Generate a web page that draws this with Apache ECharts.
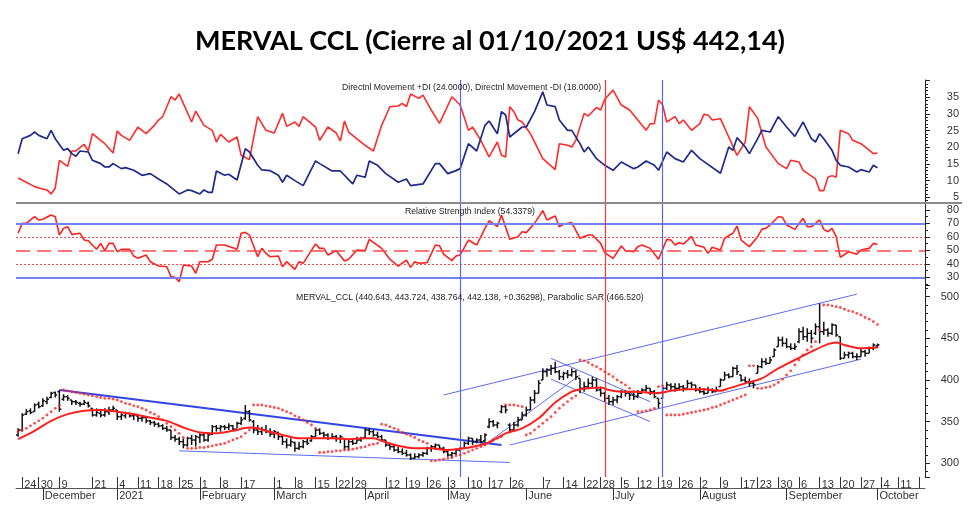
<!DOCTYPE html>
<html>
<head>
<meta charset="utf-8">
<script src="https://cdn.jsdelivr.net/npm/echarts@6/dist/echarts.min.js"></script>
<style>html,body{margin:0;padding:0;background:#fff}#c{width:980px;height:526px}</style>
</head>
<body>
<div id="c"></div>
<script>
// ---------- categories (trading days) ----------
const holidays = ['2020-11-23','2020-12-07','2020-12-08','2020-12-24','2020-12-25','2020-12-31','2021-01-01',
  '2021-02-15','2021-02-16','2021-03-24','2021-04-01','2021-04-02','2021-05-24','2021-05-25','2021-06-21',
  '2021-07-09','2021-08-16','2021-10-08'];
function tradingDays(start, count) {
  const out = []; const d = new Date(start + 'T00:00:00Z');
  while (out.length < count) {
    const wd = d.getUTCDay(); const s = d.toISOString().slice(0, 10);
    if (wd !== 0 && wd !== 6 && holidays.indexOf(s) < 0) out.push(s);
    d.setUTCDate(d.getUTCDate() + 1);
  }
  return out;
}
const dates = tradingDays('2020-11-20', 220);
const hiddenDayLabels = ['2020-12-14','2020-12-28','2021-02-22','2021-04-05','2021-05-31'];
const monthNames = ['2021','February','March','April','May','June','July','August','September','October','November','December'];

// ---------- price bars (OHLC) ----------
const opens = [
334,340,359,363,362,371,369,374,379,385, 386,377,380,376,374,372,371,372,366,358,
360,358,362,364,364,356,357,360,357,357, 354,355,351,349,347,345,342,340,331,329,
326,322,330,328,331,334,328,335,344,342, 344,343,345,341,348,354,362,350,340,338,
340,338,335,337,332,326,322,325,318,320, 326,327,332,340,336,334,330,332,330,330,
320,326,324,328,331,340,338,334,332,328, 322,320,316,314,312,310,306,308,310,312,
318,320,322,318,314,310,312,316,318,324, 330,326,328,327,344,350,346,362,368,346,
340,346,352,358,364,376,384,400,410,412, 414,410,404,408,406,410,402,390,392,396,
400,388,384,378,374,376,380,386,384,382, 380,384,388,390,386,378,378,390,394,392,
390,392,390,396,394,388,386,384,388,386, 392,400,406,404,414,406,400,398,396,408,
416,422,420,428,440,448,444,440,438,446, 458,452,456,456,464,458,460,456,466,452,
426,430,432,428,428,434,432,438,440.643];
const highs = [
342,360,365,366,372,374,378,380,386,386, 388,383,382,376,376,374,376,374,366,366,
364,366,368,369,364,360,362,361,360,358, 358,356,352,351,349,347,345,340,334,332,
330,332,334,334,336,336,336,346,346,346, 346,348,346,350,356,370,364,352,346,344,
346,342,340,338,334,330,330,326,326,328, 330,334,342,342,338,336,336,334,334,330,
328,330,332,332,342,342,340,338,334,328, 324,322,320,318,316,312,312,312,314,320,
322,324,322,320,316,314,318,320,326,332, 330,330,334,336,354,352,350,370,370,348,
350,356,362,368,380,388,400,414,414,418, 422,412,410,412,414,412,402,398,402,404,
402,392,386,382,380,382,388,388,386,386, 388,390,394,390,388,378,392,398,396,396,
396,394,400,398,394,392,390,392,390,392, 402,410,408,416,418,406,404,402,400,418,
426,426,428,438,452,452,450,444,444,462, 464,462,460,468,492,470,462,468,466,452,
434,434,434,432,438,436,440,444,443.724];
const lows = [
332,338,358,359,362,366,368,371,378,379, 362,375,375,370,370,368,370,367,356,356,
355,356,358,362,352,352,354,355,352,350, 350,348,346,344,343,340,338,328,326,322,
318,320,322,320,324,326,326,334,338,338, 340,340,339,342,346,352,350,336,334,334,
336,332,330,328,322,318,320,314,316,318, 322,326,332,334,330,328,330,326,324,316,
316,322,324,326,330,334,332,330,326,320, 316,314,312,310,308,304,305,306,308,310,
314,316,316,312,308,306,310,314,318,322, 322,324,324,326,342,344,342,360,360,336,
338,344,352,356,364,372,384,400,404,406, 408,400,400,402,404,400,384,386,390,390,
386,380,374,370,370,372,378,380,376,376, 378,384,386,382,378,366,378,388,388,386,
388,386,390,390,386,384,382,384,384,386, 392,400,402,404,406,398,396,392,390,408,
414,418,420,428,440,440,438,436,436,444, 448,446,444,454,444,454,452,454,452,424,
426,426,426,424,428,428,432,436,438.764];
const closes = [
340,358,362,361,370,368,375,377,384,382, 365,380,378,374,373,371,373,369,358,361,
358,362,364,366,356,358,360,357,358,354, 355,351,349,347,345,342,340,331,329,326,
322,330,328,332,334,328,334,344,342,344, 343,345,341,348,352,362,352,340,338,340,
338,335,338,332,326,322,326,318,320,326, 324,332,340,336,334,330,332,330,332,320,
326,324,328,330,340,338,334,332,328,322, 320,316,314,312,310,306,308,310,312,318,
320,322,318,314,310,312,316,318,324,330, 326,328,326,334,350,346,348,368,364,340,
346,352,358,364,376,384,396,410,412,414, 410,404,408,406,410,404,390,392,396,400,
388,384,378,374,376,380,386,384,382,380, 384,388,390,386,380,372,390,394,392,390,
392,390,396,394,388,386,384,388,386,388, 400,406,404,414,410,400,398,396,394,416,
422,420,424,436,448,444,440,438,440,458, 452,456,450,464,458,460,456,466,454,426,
430,432,428,428,434,432,438,442,442.138];

// ---------- moving average (read points: [day index, value]) ----------
const maPts = [[0,329],[4,339],[8,351],[12,359],[16,363],[20,364],[24,362],[28,359],[32,355],[36,351],
[40,343],[44,337],[48,336],[52,339],[56,343],[58,342],[60,339],[64,334],[68,330],[72,330],[76,330],
[80,329],[84,330],[86,330],[88,327],[92,321],[96,318],[100,318],[104,316],[108,318],[112,322],[114,325],
[118,336],[122,342],[126,354],[130,373],[134,386],[136,389],[138,390],[141,391],[143,388],[146,386],
[150,386],[154,384],[156,385],[158,387],[162,389],[166,389],[170,387],[172,390],[176,396],[180,402],
[184,414],[188,424],[192,434],[196,443],[198,445],[200,442],[204,438],[208,439]];

// ---------- Parabolic SAR ----------
const sarVals = [
338,340,342,345,348,351,354,358,362,366, 369,388,387,386,385,384,383,382,381,380,
379,378,378,377,376,374,372,371,369,368, 366,364,361,359,356,352,348,344,340,336,
331,318,318,318,319,319,320,321,322,323, 324,326,328,330,332,336,340,370,370,370,
369,368,367,366,364,362,360,357,355,352, 349,346,342,313,313,314,314,315,315,316,
316,317,318,319,320,322,323,324,347,346, 344,342,340,337,335,333,331,328,326,324,
303,303,304,305,306,307,309,310,312,314, 316,318,320,322,325,328,330,332,370,370,
370,369,368,334,336,340,344,348,352,356, 361,366,370,374,378,381,424,423,421,418,
416,413,410,407,404,400,397,394,390,386, 362,362,363,364,366,392,393,358,358,358,
358,359,360,361,362,363,364,365,367,368, 370,372,374,376,378,380,382,417,417,390,
390,391,392,394,397,401,406,411,418,424, 430,436,440,446,460,490,490,489,488,487,
485,483,482,480,478,475,473,470,466.52];

// ---------- Directional movement ----------
const diPlusPts = [[0,18.1],[1,22.6],[3,23.6],[4,24.6],[5,23.6],[7,22.6],[8,25.1],[9,22.6],[11,19.1],[12,19.6],
[13,18.1],[14,17.3],[15,18.9],[17,18.6],[18,16.1],[20,15.1],[21,14.1],[22,14.1],[23,15.1],[25,13.6],[26,13.9],
[28,13.1],[30,11.6],[32,12.1],[34,10.5],[36,9.0],[38,7.0],[39,6.0],[41,7.2],[42,7.0],[44,6.0],[45,7.2],[46,6.5],
[47,6.5],[48,12.9],[50,11.6],[51,11.9],[53,10.2],[55,19.6],[56,18.6],[58,14.6],[59,13.2],[61,13.0],[63,11.6],
[64,9.5],[65,11.6],[67,10.0],[69,8.5],[72,15.9],[73,15.1],[76,12.9],[78,12.9],[81,9.0],[82,11.6],[84,11.0],
[85,15.9],[87,14.6],[89,12.1],[92,9.5],[94,10.5],[95,8.5],[98,9.0],[101,15.1],[102,15.1],[104,12.1],[106,13.0],
[107,13.6],[109,21.1],[111,18.9],[113,26.6],[114,27.9],[116,24.1],[117,30.7],[118,29.7],[119,23.1],[122,26.1],
[123,26.1],[125,30.7],[127,36.7],[128,32.7],[130,32.2],[131,28.2],[133,25.1],[134,25.1],[136,21.1],[137,18.6],
[138,20.1],[140,16.6],[142,14.6],[144,13.1],[146,15.6],[149,13.6],[150,14.1],[152,15.9],[154,14.6],[155,13.1],
[157,18.6],[159,16.6],[161,15.6],[163,19.1],[165,16.6],[170,12.2],[172,20.1],[173,19.1],[174,22.9],[176,20.1],
[177,18.1],[179,22.6],[180,25.1],[182,24.6],[184,29.2],[186,26.1],[188,23.3],[190,27.6],[192,22.6],[193,21.6],
[194,24.1],[195,22.6],[197,19.1],[198,16.1],[199,14.6],[201,14.1],[203,12.6],[204,13.3],[206,12.6],[207,14.6],[208,13.9]];
const diMinusPts = [[0,10.8],[2,9.5],[4,8.2],[5,7.8],[7,7.2],[8,6.0],[9,7.8],[10,16.1],[12,14.3],[13,18.9],
[14,18.9],[16,20.9],[17,18.9],[18,24.1],[20,22.1],[21,21.1],[23,18.3],[24,24.9],[25,23.6],[27,22.1],[29,26.1],
[31,24.1],[33,26.6],[34,28.2],[35,29.2],[37,35.2],[38,34.2],[39,36.0],[42,27.6],[43,30.9],[45,26.6],[47,25.1],
[48,21.6],[49,23.9],[51,21.6],[53,23.1],[54,17.6],[56,16.3],[58,29.2],[60,25.1],[62,24.3],[64,30.2],[65,26.3],
[67,27.6],[68,26.3],[69,29.2],[72,26.1],[73,22.1],[75,26.1],[77,24.3],[78,21.9],[79,27.9],[80,24.6],[84,20.6],
[86,18.9],[88,26.6],[90,32.2],[92,32.4],[93,33.2],[94,32.2],[95,36.0],[97,34.7],[98,35.7],[100,31.2],[102,27.2],
[105,35.2],[107,32.7],[109,25.1],[110,26.1],[112,22.1],[114,17.1],[116,21.6],[117,17.6],[118,17.1],[119,32.2],
[120,30.7],[121,28.2],[122,27.6],[124,24.1],[127,16.6],[130,13.3],[131,21.1],[133,20.6],[134,20.1],[135,22.1],
[137,30.2],[138,29.4],[140,32.0],[141,31.2],[142,34.4],[144,37.2],[146,32.7],[148,31.2],[150,28.2],[152,25.1],
[153,27.1],[154,27.1],[155,34.2],[156,32.7],[157,27.6],[159,29.2],[160,27.1],[161,28.2],[163,25.1],[165,27.1],
[166,29.9],[167,29.7],[168,28.2],[170,28.6],[172,23.1],[174,17.6],[176,21.6],[177,32.2],[179,28.7],[181,20.1],
[184,15.1],[186,13.6],[187,16.1],[189,15.6],[190,13.1],[193,10.5],[194,7.0],[195,7.0],[196,11.0],[197,11.5],
[198,11.0],[199,25.1],[201,24.1],[202,22.1],[204,21.1],[205,20.1],[207,18.1],[208,18.3]];

// ---------- RSI ----------
const rsiPts = [[0,62.7],[1,70.1],[2,70.1],[4,75.0],[5,72.6],[6,73.1],[8,76.3],[9,75.0],[10,61.4],[11,66.4],
[12,67.6],[13,61.9],[15,62.7],[16,57.7],[17,57.2],[19,50.8],[20,55.2],[21,49.8],[22,55.2],[23,55.2],[24,49.0],
[25,50.8],[27,50.8],[28,45.8],[29,44.1],[31,46.6],[32,41.6],[34,38.4],[36,37.9],[37,30.5],[38,30.0],[39,26.8],
[40,39.1],[42,38.4],[43,33.0],[44,41.6],[46,41.6],[47,43.4],[48,54.0],[50,54.0],[53,50.8],[54,62.7],[55,63.4],
[56,61.4],[58,45.3],[59,51.5],[60,47.8],[61,45.3],[63,45.8],[64,37.9],[65,41.6],[67,35.9],[68,41.6],[69,40.4],
[72,54.8],[73,51.5],[74,51.5],[75,46.6],[77,49.8],[79,42.1],[80,43.4],[82,50.3],[84,49.8],[85,58.2],[88,51.5],
[90,43.4],[92,38.4],[94,42.8],[95,37.4],[96,41.6],[97,40.4],[99,40.9],[101,54.0],[102,53.5],[103,47.3],[105,42.4],
[106,45.8],[107,46.6],[109,57.7],[111,54.0],[113,66.4],[114,72.0],[116,67.6],[117,76.3],[119,58.2],[121,60.2],
[122,63.9],[123,63.2],[125,70.1],[127,79.5],[128,72.6],[130,75.5],[131,67.6],[132,69.4],[134,70.6],[136,59.0],
[138,61.4],[139,61.4],[141,55.2],[142,48.3],[144,44.1],[146,53.3],[147,49.8],[149,49.0],[150,52.8],[151,54.0],
[153,51.5],[155,43.4],[157,58.2],[158,57.7],[159,54.0],[160,55.7],[161,54.7],[163,60.2],[164,54.0],[166,52.3],
[167,47.8],[168,52.3],[170,50.3],[171,59.0],[173,62.7],[174,68.1],[175,57.7],[177,52.8],[179,60.2],[180,65.6],
[181,66.4],[182,68.9],[184,75.0],[185,74.6],[186,68.9],[188,65.6],[190,73.8],[191,67.6],[192,67.6],[194,72.6],
[195,65.6],[196,63.9],[197,66.4],[198,60.2],[199,44.8],[201,49.0],[203,47.1],[204,50.3],[206,51.5],[207,55.2],[208,54.34]];
const rsiLevels = {blue: [70, 30], dashed: [50], dotted: [60, 40]};

// ---------- drawn trendlines: [[day index, price], [day index, price]] ----------
const trendMain = [[10, 388], [117, 322]];
const trendThin = [
  [[39, 315], [119, 301]],
  [[103, 382], [203, 503]],
  [[119, 322], [204, 425]],
  [[129, 426], [153, 374]],
  [[129, 401], [153, 350]],
  [[114, 326], [136, 406]]
];
const vBlue = [107, 156];
const vRed = [142];

// ---------- helpers ----------
function weekNo(s) { const t = Date.parse(s + 'T00:00:00Z') / 86400000; return Math.floor((t + 3) / 7); }
function isWeekStart(i) { return i > 0 && weekNo(dates[i]) !== weekNo(dates[i - 1]); }
function isMonthStart(i) { return i > 0 && dates[i].slice(5, 7) !== dates[i - 1].slice(5, 7); }
function showDayLabel(i) { return isWeekStart(i) && i <= 213 && hiddenDayLabels.indexOf(dates[i]) < 0; }
function showDayTick(i) { return showDayLabel(i) || (isWeekStart(i) && i > 213); }

const FONT = 'Liberation Sans';
const vLines = [].concat(
  vBlue.map(v => ({xAxis: v, lineStyle: {color: '#5566f2', width: 1.2, type: 'solid'}})),
  vRed.map(v => ({xAxis: v, lineStyle: {color: '#ff3535', width: 1.2, type: 'solid'}}))
);
function vMark() { return {silent: true, symbol: 'none', label: {show: false}, animation: false, data: vLines}; }

const hiddenX = gi => ({type: 'category', gridIndex: gi, data: dates, show: false, boundaryGap: true});
const rightY = (gi, min, max, split, minorSplit, labelMax) => ({
  type: 'value', gridIndex: gi, position: 'right', min: min, max: max, scale: true, splitNumber: split,
  splitLine: {show: false},
  axisLine: {show: true, lineStyle: {color: '#222', width: 1}},
  axisTick: {show: true, length: 5, lineStyle: {color: '#222'}},
  minorTick: {show: true, splitNumber: minorSplit, length: 3, lineStyle: {color: '#222'}},
  axisLabel: {showMinLabel: false, showMaxLabel: false, align: 'right', margin: 34, fontSize: 11, fontFamily: FONT, color: '#333',
    formatter: v => (v > labelMax ? '' : String(v))}
});

const ohlcData = closes.map((c, i) => [i, opens[i], highs[i], lows[i], c]);
const sarData = sarVals.map((v, i) => [i, v]);

function renderOHLC(params, api) {
  const i = api.value(0);
  const pO = api.coord([i, api.value(1)]);
  const pH = api.coord([i, api.value(2)]);
  const pL = api.coord([i, api.value(3)]);
  const pC = api.coord([i, api.value(4)]);
  const x = pH[0];
  const st = {stroke: '#111', lineWidth: 1.5};
  return {type: 'group', children: [
    {type: 'line', shape: {x1: x, y1: pH[1], x2: x, y2: pL[1]}, style: st},
    {type: 'line', shape: {x1: x - 2, y1: pO[1], x2: x, y2: pO[1]}, style: st},
    {type: 'line', shape: {x1: x, y1: pC[1], x2: x + 2, y2: pC[1]}, style: st}
  ]};
}

const rsiMarks = [].concat(
  rsiLevels.blue.map(v => ({yAxis: v, lineStyle: {color: '#7282f4', width: 1.8, type: 'solid'}})),
  rsiLevels.dashed.map(v => ({yAxis: v, lineStyle: {color: '#ff4a4a', width: 1.5, type: [14, 7]}})),
  rsiLevels.dotted.map(v => ({yAxis: v, lineStyle: {color: '#ff4a4a', width: 1, type: [2, 2]}}))
);

const trendSeries = [{
  type: 'line', xAxisIndex: 2, yAxisIndex: 2, data: trendMain, showSymbol: false, symbol: 'none',
  lineStyle: {color: '#3344e6', width: 2}, z: 3, animation: false, silent: true
}].concat(trendThin.map(t => ({
  type: 'line', xAxisIndex: 2, yAxisIndex: 2, data: t, showSymbol: false, symbol: 'none',
  lineStyle: {color: '#5b6bf2', width: 1}, z: 3, animation: false, silent: true
})));

const chart = echarts.init(document.getElementById('c'), null, {renderer: 'canvas'});
chart.setOption({
  animation: false,
  backgroundColor: '#fff',
  title: [
    {text: 'MERVAL CCL (Cierre al 01/10/2021 US$ 442,14)', left: 'center', top: 28, padding: 0,
     textStyle: {fontFamily: 'Lato', fontWeight: 'bold', fontSize: 27, color: '#000'}},
    {text: 'Directnl Movement +DI (24.0000), Directnl Movement -DI (18.0000)', left: 342, top: 83, padding: 0,
     textStyle: {fontFamily: FONT, fontWeight: 'normal', fontSize: 8.7, color: '#222'}},
    {text: 'Relative Strength Index (54.3379)', left: 405, top: 207, padding: 0,
     textStyle: {fontFamily: FONT, fontWeight: 'normal', fontSize: 8.7, color: '#222'}},
    {text: 'MERVAL_CCL (440.643, 443.724, 438.764, 442.138, +0.36298), Parabolic SAR (466.520)', left: 296, top: 293, padding: 0,
     textStyle: {fontFamily: FONT, fontWeight: 'normal', fontSize: 8.7, color: '#222'}}
  ],
  graphic: [
    {type: 'line', shape: {x1: 16, y1: 203, x2: 962, y2: 203}, style: {stroke: '#8a8a8a', lineWidth: 2}, z: 10}
  ],
  grid: [
    {left: 16, right: 55, top: 80, height: 123},
    {left: 16, right: 55, top: 203, height: 82},
    {left: 16, right: 55, top: 285, height: 192}
  ],
  xAxis: [
    hiddenX(0),
    hiddenX(1),
    {type: 'category', gridIndex: 2, data: dates, boundaryGap: true, position: 'bottom',
     axisLine: {show: false},
     axisTick: {show: true, alignWithLabel: true, length: 11, interval: (i) => showDayTick(i), lineStyle: {color: '#333'}},
     axisLabel: {interval: (i) => showDayLabel(i), align: 'left', margin: 2, padding: [0, 0, 0, 2],
       fontSize: 11, fontFamily: FONT, color: '#333',
       formatter: (v, i) => showDayLabel(i) ? String(parseInt(v.slice(8), 10)) : ''}},
    {type: 'category', gridIndex: 2, data: dates, boundaryGap: true, position: 'bottom', offset: 11,
     axisLine: {show: true, lineStyle: {color: '#555', width: 1}},
     axisTick: {show: true, alignWithLabel: true, length: 12, interval: (i) => isMonthStart(i), lineStyle: {color: '#333'}},
     axisLabel: {interval: (i) => isMonthStart(i), align: 'left', margin: 2, padding: [0, 0, 0, 2],
       fontSize: 11, fontFamily: FONT, color: '#333',
       formatter: (v, i) => isMonthStart(i) ? monthNames[parseInt(v.slice(5, 7), 10) - 1] : ''}}
  ],
  yAxis: [
    rightY(0, 3.28, 40.22, 8, 5, 36),
    rightY(1, 24.3, 85.2, 6, 2, 80),
    rightY(2, 283.6, 514.0, 5, 5, 500)
  ],
  series: [
    {type: 'line', xAxisIndex: 0, yAxisIndex: 0, data: diMinusPts, showSymbol: false, symbol: 'none',
     lineStyle: {color: '#ff2b2b', width: 1.6}, z: 2},
    {type: 'line', xAxisIndex: 0, yAxisIndex: 0, data: diPlusPts, showSymbol: false, symbol: 'none',
     lineStyle: {color: '#1f2a8c', width: 1.7}, z: 2, markLine: vMark()},
    {type: 'line', xAxisIndex: 1, yAxisIndex: 1, data: rsiPts, showSymbol: false, symbol: 'none',
     lineStyle: {color: '#ff2020', width: 1.6}, z: 3,
     markLine: {silent: true, symbol: 'none', label: {show: false}, data: rsiMarks.concat(vLines)}},
    {type: 'custom', xAxisIndex: 2, yAxisIndex: 2, data: ohlcData, renderItem: renderOHLC,
     encode: {x: 0, y: [1, 2, 3, 4]}, z: 4, markLine: vMark()},
    {type: 'line', xAxisIndex: 2, yAxisIndex: 2, data: maPts, showSymbol: false, symbol: 'none', smooth: 0.3,
     lineStyle: {color: '#ff1f1f', width: 2}, z: 5},
    {type: 'scatter', xAxisIndex: 2, yAxisIndex: 2, data: sarData, symbol: 'circle', symbolSize: 2.8,
     itemStyle: {color: '#ff2020'}, z: 5}
  ].concat(trendSeries)
});
</script>
</body>
</html>
